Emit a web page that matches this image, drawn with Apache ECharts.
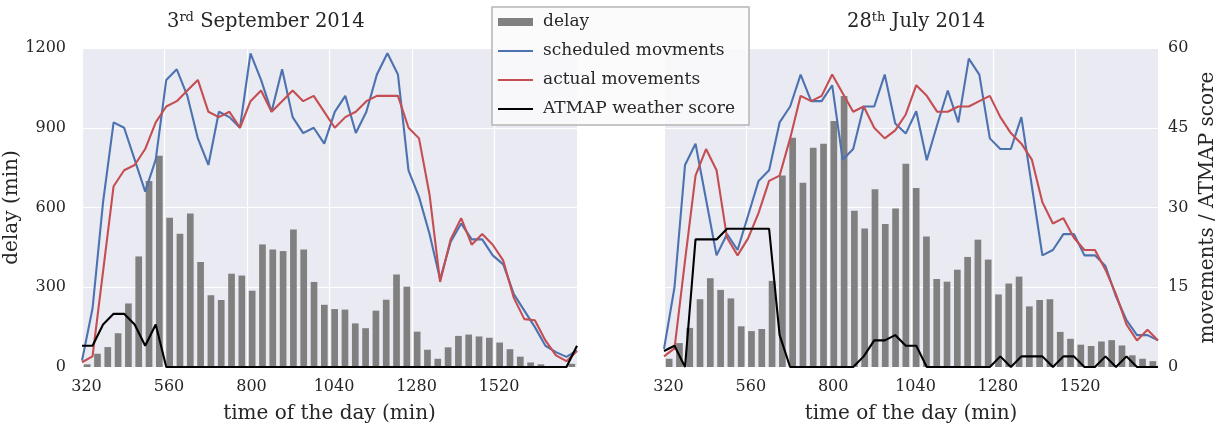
<!DOCTYPE html>
<html><head><meta charset="utf-8">
<script src="https://cdn.jsdelivr.net/npm/echarts@6/dist/echarts.min.js"></script>
<style>html,body{margin:0;padding:0;background:#fff}#c{width:1225px;height:429px}</style>
</head><body><div id="c"></div>
<script>
// ---- data ----
const binStarts = [320,350,380,410,440,470,500,530,560,590,620,650,680,710,740,770,800,830,860,890,920,950,980,1010,1040,1070,1100,1130,1160,1190,1220,1250,1280,1310,1340,1370,1400,1430,1460,1490,1520,1550,1580,1610,1640,1670,1700,1730];
const pointIdx = [0,1,2,3,4,5,6,7,8,9,10,11,12,13,14,15,16,17,18,19,20,21,22,23,24,25,26,27,28,29,30,31,32,33,34,35,36,37,38,39,40,41,42,43,44,45,46,47];
const xTicks = [320,560,800,1040,1280,1520];
const yTicksDelay = [0,300,600,900,1200];
const yTicksMov = [0,15,30,45,60];

const delayLeft = [10,50,75,127,239,416,700,795,561,501,577,395,270,252,351,344,287,461,442,436,517,442,320,234,218,216,164,146,212,253,348,302,133,65,31,74,117,122,115,110,92,67,39,17,10,0,0,12];
const schedLeft = [1.2,11,31,46,45,39,33,39,54,56,51,43,38,48,47,45,59,54,48,56,47,44,45,42,48,51,44,48,55,59,55,37,32,25,16.5,23.5,27,24,24,21,19.3,13.7,10.6,7.5,4,2.8,1.9,3.1];
const actualLeft = [0.9,2,18,34,37,38,41,46,49,50,52,54,48,47,48,45,50,52,48,50,52,50,51,48,45,47,48,50,51,51,51,45,43,32.4,16,24,28,23,25,23,20,13,9,8.8,5,2.2,1.1,3];
const atmapLeft = [4,4,8,10,10,8,4,8,0,0,0,0,0,0,0,0,0,0,0,0,0,0,0,0,0,0,0,0,0,0,0,0,0,0,0,0,0,0,0,0,0,0,0,0,0,0,0,4];

const delayRight = [31,90,147,255,334,290,258,153,135,143,324,720,862,693,825,840,925,1019,588,521,669,538,596,765,673,491,331,321,366,414,479,404,273,314,340,228,252,255,132,106,84,79,96,101,81,44,31,22];
const schedRight = [3.4,15,38,42,31.5,21,25,22,28.5,35,37,46,49,55,50,50,53,39,41,49,49,55,45.8,43.9,48.1,38.9,45.6,52,46,58,55,43,41,41,47,34,21,22,25,25,21,21,19,13.3,8.8,6,6,5];
const actualRight = [2,3.5,20,36,41,37,24.3,21,24.2,29,35,36,43,51,50,51,55,51.5,48,49,45,43,44.5,47.5,53,51,48,48,49,49,50,51,47,44,42,39,31,27,28,24.3,22,22,18.3,13.7,8,5,7,5];
const atmapRight = [3,4,0,24,24,24,26,26,26,26,26,6,0,0,0,0,0,0,0,2,5,5,6,4,4,0,0,0,0,0,0,0,2,0,2,2,2,0,2,2,0,0,2,0,2,0,0,0];

const titles = [['3','rd',' September 2014'], ['28','th',' July 2014']];

// ---- style ----
const FONT = 'DejaVu Serif';
const TXT = '#262626';
const BG = '#EAEAF2';
const C_BAR = '#808080', C_BLUE = '#4C72B0', C_RED = '#C44E52', C_BLACK = '#000000';
const LINE_ICON = 'path://M0,0H35V2.2H0Z';

function xAxesFor(g) {
  return [
    { gridIndex: g, type: 'value', min: 320, max: 1760, interval: 240,
      axisLine: {show: false}, axisTick: {show: false},
      axisLabel: { formatter: v => xTicks.includes(v) ? String(v) : '', fontFamily: FONT, fontSize: 16, color: TXT, margin: 12, padding: [0, 0, 0, 9] },
      splitLine: { show: true, showMaxLine: false, lineStyle: {color: '#ffffff', width: 1.2} },
      name: 'time of the day (min)', nameLocation: 'middle', nameGap: 37,
      nameTextStyle: { fontFamily: FONT, fontSize: 20, color: TXT } },
    { gridIndex: g, type: 'category', data: binStarts, boundaryGap: true, show: false },
    { gridIndex: g, type: 'category', data: pointIdx, boundaryGap: false, show: false }
  ];
}
function yAxisDelay(g, showLabels) {
  return { gridIndex: g, type: 'value', position: 'left', min: 0, max: 1200, interval: 300,
    axisLine: {show: false}, axisTick: {show: false},
    axisLabel: { show: showLabels, formatter: v => yTicksDelay.includes(v) ? String(v) : '', fontFamily: FONT, fontSize: 16, color: TXT, margin: 16 },
    splitLine: { show: true, lineStyle: {color: '#ffffff', width: 1.2} },
    name: showLabels ? 'delay (min)' : '', nameLocation: 'middle', nameGap: 47,
    nameTextStyle: { fontFamily: FONT, fontSize: 20, color: TXT } };
}
function yAxisMov(g, showLabels) {
  return { gridIndex: g, type: 'value', position: 'right', min: 0, max: 60, interval: 15,
    axisLine: {show: false}, axisTick: {show: false},
    axisLabel: { show: showLabels, formatter: v => yTicksMov.includes(v) ? String(v) : '', fontFamily: FONT, fontSize: 16, color: TXT, margin: 10 },
    splitLine: { show: false },
    name: showLabels ? 'movements / ATMAP score' : '', nameLocation: 'middle', nameGap: 40,
    nameTextStyle: { fontFamily: FONT, fontSize: 20, color: TXT } };
}
function seriesFor(g, delay, sched, actual, atmap) {
  const xb = g * 3 + 1, xl = g * 3 + 2, yd = g * 2, ym = g * 2 + 1;
  const line = (name, data, color) => ({
    name, type: 'line', xAxisIndex: xl, yAxisIndex: ym, data, symbol: 'none',
    lineStyle: {color, width: 2.1}, itemStyle: {color}, animation: false, z: 3
  });
  return [
    { name: 'delay', type: 'bar', xAxisIndex: xb, yAxisIndex: yd, data: delay, barWidth: '65%',
      itemStyle: {color: C_BAR}, animation: false, z: 2 },
    line('scheduled movments', sched, C_BLUE),
    line('actual movements', actual, C_RED),
    line('ATMAP weather score', atmap, C_BLACK)
  ];
}
function titleFor(t, left) {
  return { text: t[0] + '{sup|' + t[1] + '}' + t[2], left, top: 6,
    textStyle: { fontFamily: FONT, fontSize: 19.5, fontWeight: 'normal', color: TXT,
      rich: { sup: { fontFamily: FONT, fontSize: 13, color: TXT, verticalAlign: 'top', padding: [0, 0, 8, 0] } } } };
}

const chart = echarts.init(document.getElementById('c'), null, {renderer: 'canvas'});
chart.setOption({
  backgroundColor: '#ffffff',
  animation: false,
  title: [titleFor(titles[0], 162), titleFor(titles[1], 842)],
  grid: [
    { left: 82, top: 48, width: 495, height: 322, show: true, backgroundColor: BG, borderWidth: 0 },
    { left: 664, top: 48, width: 494, height: 322, show: true, backgroundColor: BG, borderWidth: 0 }
  ],
  xAxis: [...xAxesFor(0), ...xAxesFor(1)],
  yAxis: [yAxisDelay(0, true), yAxisMov(0, false), yAxisDelay(1, false), yAxisMov(1, true)],
  legend: {
    left: 492, top: 7, orient: 'vertical',
    data: [
      {name: 'delay', icon: 'rect'},
      {name: 'scheduled movments', icon: LINE_ICON},
      {name: 'actual movements', icon: LINE_ICON},
      {name: 'ATMAP weather score', icon: LINE_ICON}
    ],
    itemWidth: 35, itemHeight: 8, itemGap: 9,
    padding: [5, 14, 6, 6],
    backgroundColor: 'rgba(250,250,252,0.85)', borderColor: '#b5b5b5', borderWidth: 1.5,
    textStyle: { fontFamily: FONT, fontSize: 17, color: TXT, lineHeight: 20, padding: [0, 0, 0, 5] },
    selectedMode: false, z: 10
  },
  series: [
    ...seriesFor(0, delayLeft, schedLeft, actualLeft, atmapLeft),
    ...seriesFor(1, delayRight, schedRight, actualRight, atmapRight)
  ]
});
</script></body></html>
